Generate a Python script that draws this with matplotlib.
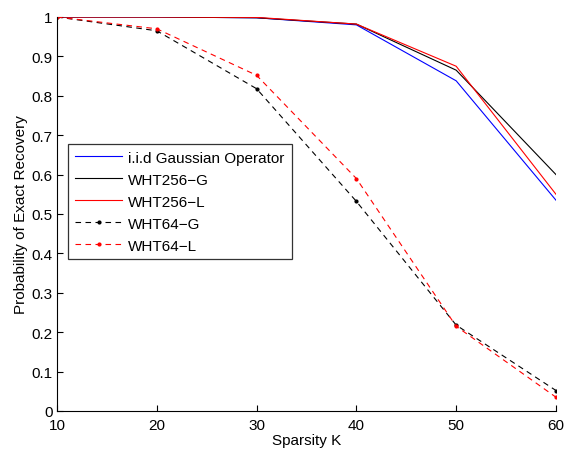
import matplotlib
matplotlib.use("Agg")
import matplotlib.pyplot as plt

plt.rcParams['font.family'] = ['Liberation Sans', 'DejaVu Sans']

sparsity = [10, 20, 30, 40, 50, 60]
gauss = [1.0, 1.0, 0.998, 0.98, 0.838, 0.535]
wht256_g = [1.0, 1.0, 0.998, 0.982, 0.865, 0.60]
wht256_l = [1.0, 1.0, 0.999, 0.982, 0.875, 0.55]
wht64_g = [1.0, 0.965, 0.818, 0.532, 0.218, 0.052]
wht64_l = [1.0, 0.97, 0.852, 0.59, 0.215, 0.035]

xticks = [10, 20, 30, 40, 50, 60]
yticks = [0, 0.1, 0.2, 0.3, 0.4, 0.5, 0.6, 0.7, 0.8, 0.9, 1]
ytick_labels = ['0', '0.1', '0.2', '0.3', '0.4', '0.5', '0.6', '0.7', '0.8', '0.9', '1']

fig = plt.figure(figsize=(5.66, 4.52), dpi=100)
ax = fig.add_axes([0.1007, 0.0885, 0.8816, 0.8717])

lw = 0.8
dash = (0, (5, 4))
ax.plot(sparsity, gauss, color='#0000ff', lw=lw, label='i.i.d Gaussian Operator')
ax.plot(sparsity, wht256_g, color='black', lw=lw, label='WHT256\u2212G')
ax.plot(sparsity, wht256_l, color='#ff0000', lw=lw, label='WHT256\u2212L')
ax.plot(sparsity, wht64_g, color='black', lw=lw, ls=dash, marker='.', ms=4,
        label='WHT64\u2212G')
ax.plot(sparsity, wht64_l, color='#ff0000', lw=lw, ls=dash, marker='.', ms=4,
        label='WHT64\u2212L')

ax.set_xlim(10, 60)
ax.set_ylim(0, 1)
ax.set_xticks(xticks)
ax.set_yticks(yticks)
ax.set_yticklabels(ytick_labels)
ax.tick_params(direction='in', length=4, labelsize=11, width=0.8)
ax.tick_params(axis='x', pad=5)
ax.tick_params(axis='y', pad=3)
for s in ['top', 'right']:
    ax.spines[s].set_visible(False)
for s in ['left', 'bottom']:
    ax.spines[s].set_linewidth(0.8)

ax.set_xlabel('Sparsity K', fontsize=11, labelpad=1)
ax.set_ylabel('Probability of Exact Recovery', fontsize=11, labelpad=3)

leg = ax.legend(loc='upper left', bbox_to_anchor=(0.022, 0.678), borderaxespad=0,
                fontsize=11, frameon=True, fancybox=False, edgecolor='black',
                handlelength=3.1, handletextpad=0.4, labelspacing=0.52,
                borderpad=0.45)
leg.get_frame().set_linewidth(0.9)

fig.savefig('out.png', dpi=100)
